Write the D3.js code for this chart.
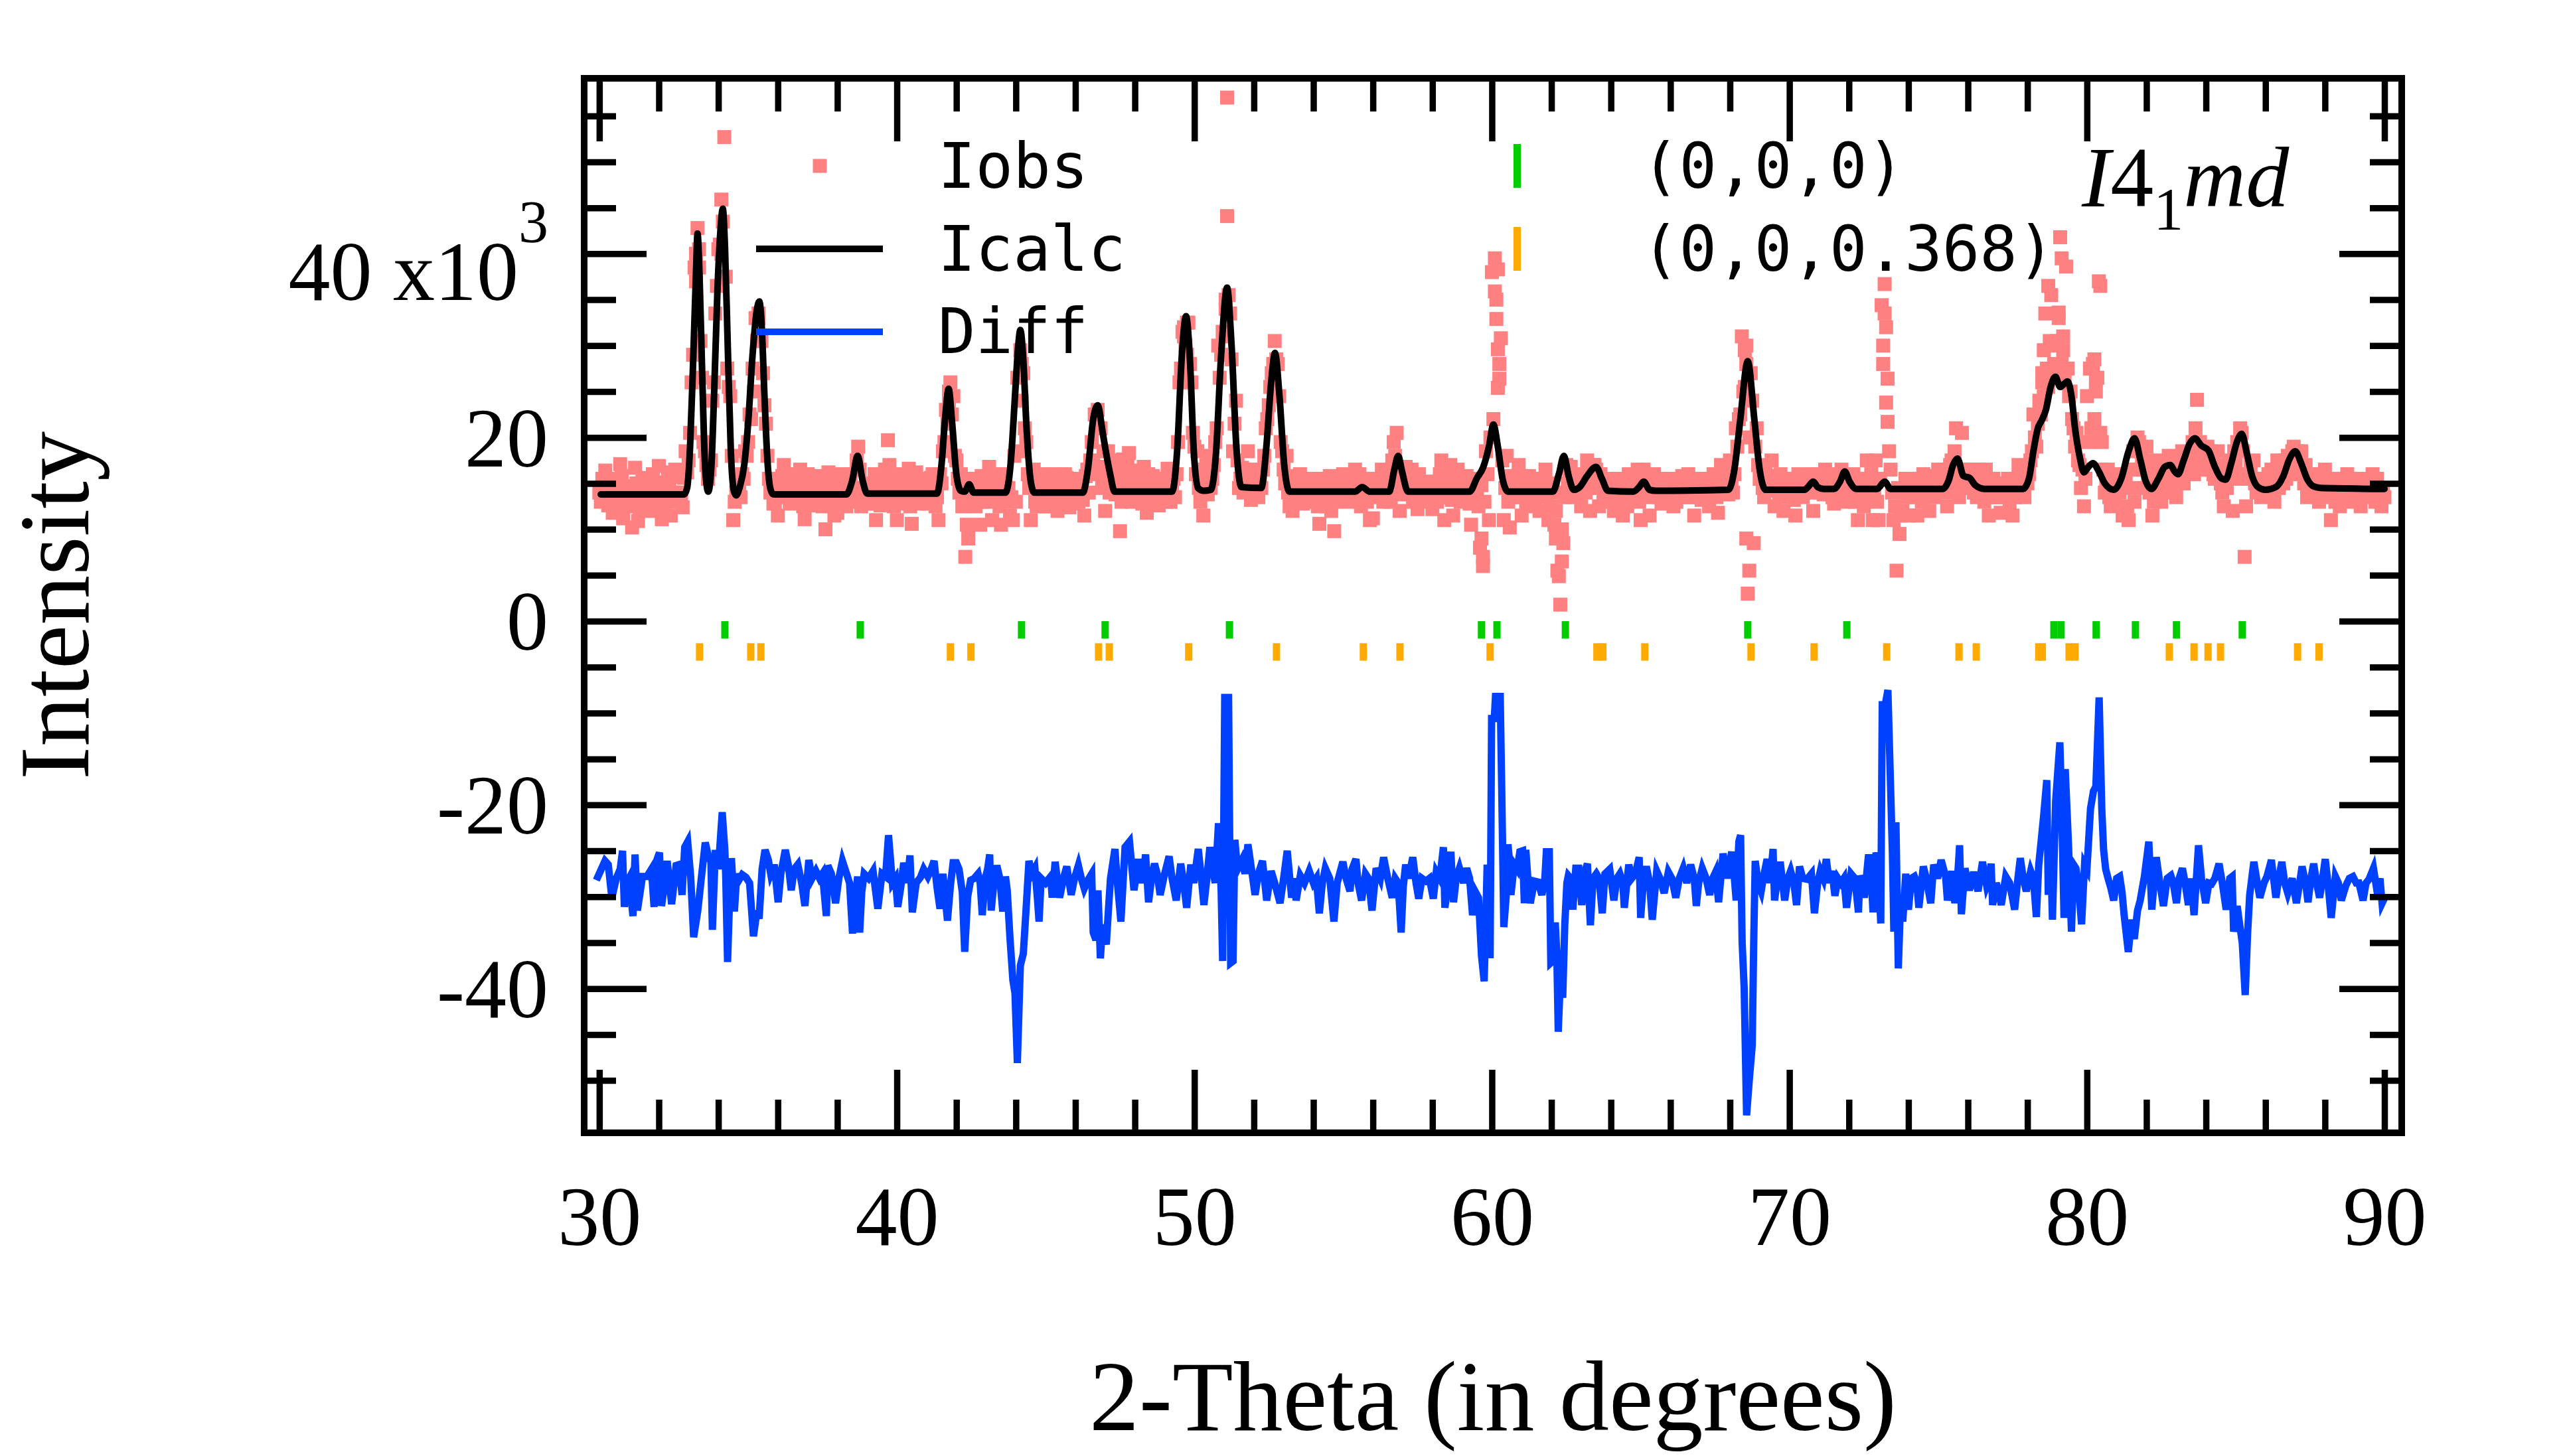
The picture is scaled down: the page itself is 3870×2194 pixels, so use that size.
<!DOCTYPE html>
<html><head><meta charset="utf-8">
<script src="https://cdn.jsdelivr.net/npm/d3@7/dist/d3.min.js"></script>
<style>html,body{margin:0;padding:0;background:#fff;} svg{display:block;}</style>
</head><body>
<svg id="chart" width="3870" height="2194"></svg>
<script>
// ---------------- DATA (intensities in units of 10^3 counts) ----------------
// observed profile, sampled on two interleaved 2theta grids
const obsStart = 30.0, obsStep = 0.1;
const obsCounts = [
14.0,15.5,16.4,12.6,13.0,14.2,14.5,17.1,11.2,13.5,
14.0,10.2,16.7,10.9,14.3,14.8,14.4,12.0,16.0,13.2,
16.9,11.1,13.5,16.2,11.5,14.0,15.7,15.8,12.4,18.5,
17.5,26.0,38.5,42.8,30.5,19.5,17.0,16.5,24.0,33.5,
40.5,45.9,52.7,27.5,24.5,11.0,14.0,14.5,16.0,18.5,
19.5,22.0,25.0,30.5,31.0,27.0,21.5,15.5,14.6,13.0,
11.5,14.6,17.0,15.5,12.8,14.5,15.8,15.2,13.0,11.1,
16.0,14.0,15.0,14.5,13.5,12.5,10.0,16.2,14.0,11.5,
11.8,16.0,14.5,12.5,15.0,13.0,14.0,19.0,12.5,14.5,
13.5,14.2,14.8,11.0,13.5,15.0,16.5,19.7,15.5,12.5,
11.0,14.5,16.0,14.8,16.6,10.6,13.5,14.5,14.0,13.2,
14.5,14.0,16.0,12.5,11.0,15.0,19.5,21.5,26.0,24.5,
17.5,14.0,12.5,7.0,9.0,14.5,14.0,14.8,10.5,13.0,
15.5,16.8,11.0,15.5,15.7,10.5,14.5,13.0,11.5,11.0,
13.0,18.5,24.0,21.0,16.0,11.0,16.5,12.5,15.0,14.0,
12.5,14.5,13.0,16.0,12.0,14.5,13.5,15.6,12.4,13.8,
15.5,13.0,14.5,11.5,16.5,17.5,17.0,22.5,16.0,14.5,
12.0,18.5,15.2,17.5,15.0,9.8,17.6,16.0,18.3,13.0,
15.0,16.4,14.0,16.8,11.8,13.5,15.8,14.0,12.6,13.5,
14.5,16.6,13.0,15.5,16.0,26.0,31.5,30.0,32.5,26.0,
19.0,18.5,13.0,11.5,17.0,18.0,15.5,19.5,30.0,29.0,
31.0,57.0,33.5,18.5,24.0,14.5,16.7,16.5,18.5,13.2,
14.0,15.5,16.0,16.5,21.0,23.5,27.0,30.5,28.0,19.5,
16.5,18.0,12.5,12.0,14.6,14.0,13.5,15.0,14.5,13.0,
14.0,13.0,10.6,13.5,15.5,14.0,12.0,9.8,13.5,15.5,
16.0,14.5,13.0,15.5,16.5,14.0,12.5,14.2,13.0,11.0,
11.2,15.5,14.8,16.5,16.0,13.5,13.0,19.5,20.5,12.0,
15.0,16.8,15.5,16.5,14.0,12.2,13.5,14.5,14.0,13.0,
12.2,15.0,13.5,17.5,11.0,14.5,17.0,11.5,14.5,15.5,
15.5,14.0,15.0,10.5,14.0,13.5,8.0,6.0,18.5,11.0,
38.0,39.5,38.3,30.8,11.0,18.0,10.2,15.5,13.5,17.0,
11.5,15.5,12.5,14.0,14.5,15.0,12.0,13.5,16.5,11.0,
12.5,10.5,5.5,1.8,8.5,17.0,15.5,13.5,15.5,16.0,
12.5,15.5,17.5,12.0,17.0,16.5,12.5,14.5,15.0,15.5,
14.5,12.0,15.0,14.5,11.5,13.5,16.0,14.5,13.5,16.5,
11.0,16.5,16.0,11.5,14.0,15.5,13.5,12.8,14.5,15.0,
14.0,12.5,13.0,15.0,15.8,14.5,16.0,15.5,11.5,13.5,
15.5,14.0,14.5,12.5,14.0,15.0,11.8,17.0,16.5,14.5,
17.5,14.0,21.0,22.0,31.0,29.5,3.0,27.0,8.5,21.0,
15.5,14.5,16.5,15.0,17.5,12.5,15.5,16.0,12.0,14.5,
15.5,14.0,11.5,16.0,15.0,14.0,14.5,16.0,12.0,14.0,
15.5,14.5,16.5,15.0,15.5,12.8,14.5,15.0,13.5,14.0,
15.5,14.5,13.0,11.0,15.0,12.5,17.5,15.0,11.0,17.5,
11.0,34.4,36.7,26.4,16.5,11.0,5.5,9.5,12.0,15.5,
11.5,14.5,15.0,11.5,14.0,16.0,14.5,12.0,15.5,14.5,
16.5,15.0,16.0,12.5,17.0,15.0,21.0,13.5,20.5,16.5,
14.5,16.5,14.0,13.5,16.5,14.0,16.5,11.5,13.5,14.5,
13.5,11.8,15.0,14.0,12.5,11.5,13.5,17.0,16.0,13.5,
15.0,17.5,22.5,19.0,24.0,26.0,33.5,25.5,35.5,28.0,
30.5,41.8,29.5,38.6,24.5,22.0,19.0,17.5,14.5,12.5,
24.5,27.5,28.0,25.0,37.0,19.5,14.0,16.5,12.5,14.5,
15.5,14.0,11.5,15.5,11.0,14.5,13.0,20.0,18.5,16.5,
19.0,14.0,11.5,17.5,15.5,13.0,15.0,16.5,17.0,14.0,
13.5,15.5,18.5,16.0,16.0,17.0,16.0,24.1,19.5,16.5,
16.5,18.5,17.5,15.5,18.5,15.0,12.5,14.5,17.5,12.0,
17.0,15.5,20.5,7.0,15.5,17.0,17.5,14.0,14.5,15.5,
14.5,16.0,16.5,13.0,17.5,17.0,15.0,15.5,17.0,18.5,
16.0,16.5,18.5,15.0,13.5,14.0,16.0,15.5,13.0,15.0,
16.5,14.0,11.0,15.0,13.5,12.5,14.5,13.0,15.5,15.0,
14.5,14.0,12.5,14.5,14.0,15.5,16.0,13.0,14.5,12.5,
13.5];
const obsStartB = 30.05;
const obsCountsB = [
13.0,14.8,15.2,13.8,11.8,15.5,13.2,15.8,12.6,14.7,
12.5,13.6,15.0,12.2,15.6,13.5,15.2,13.0,14.8,15.1,
13.4,12.5,14.6,15.0,13.0,16.5,14.0,13.2,15.6,16.2,
20.5,29.0,37.0,40.5,26.5,18.5,15.5,17.5,26.0,36.5,
41.0,43.5,37.5,25.5,18.0,13.0,15.0,13.5,15.5,18.0,
22.5,27.5,33.0,33.5,30.5,23.5,18.0,14.0,12.8,15.0,
13.5,15.8,13.6,14.2,16.0,13.0,14.0,16.5,12.5,14.8,
13.0,15.5,12.6,15.8,14.2,13.0,15.0,13.5,15.4,12.8,
14.5,13.0,15.5,13.8,16.0,14.0,17.5,16.5,14.5,12.8,
15.0,12.8,16.0,14.5,12.6,14.0,15.8,17.0,13.2,14.6,
15.2,12.8,14.0,15.5,12.5,15.0,16.2,12.8,15.5,14.5,
12.8,15.6,14.5,13.5,16.0,18.5,23.0,25.0,22.5,18.0,
15.5,16.0,14.0,10.5,13.0,15.5,12.5,13.8,15.8,14.0,
13.0,14.2,16.0,13.5,12.5,15.0,16.0,14.5,13.5,18.0,
26.5,29.5,27.0,19.5,14.5,15.5,13.0,14.8,13.5,16.0,
14.8,12.5,15.5,14.0,15.0,13.0,16.0,14.0,14.8,12.8,
14.2,15.0,13.2,15.8,14.0,19.5,22.5,23.0,21.0,18.5,
16.8,14.0,16.5,13.8,16.8,13.0,14.5,17.0,14.2,15.5,
13.5,15.2,12.8,14.5,16.0,14.2,13.0,15.5,14.8,15.5,
13.0,15.0,14.5,13.5,19.5,27.5,32.0,32.5,28.0,20.5,
16.0,14.5,15.5,16.5,13.8,14.5,17.0,21.0,26.5,31.5,
35.0,35.5,28.5,21.5,17.5,15.5,14.0,15.8,14.5,15.5,
16.5,13.5,14.5,18.0,22.0,25.5,28.0,28.5,24.5,18.5,
15.0,14.0,15.8,13.5,15.5,16.0,12.8,14.2,15.5,14.0,
15.5,12.5,14.5,15.0,12.5,15.8,14.0,13.0,14.8,13.5,
13.5,15.8,14.0,13.5,14.5,16.0,15.0,13.5,15.5,14.0,
13.5,14.0,15.5,13.0,14.8,15.5,17.5,18.0,16.5,14.5,
13.8,15.2,14.0,13.0,15.5,16.0,14.0,13.2,15.2,14.5,
14.5,13.0,16.0,14.0,13.5,15.8,13.2,14.5,16.5,13.0,
14.5,15.8,12.8,14.0,15.5,12.5,14.8,13.0,16.0,20.0,
22.0,35.0,28.0,17.5,14.5,13.0,15.8,14.0,14.8,13.5,
14.0,13.0,15.8,15.0,12.8,14.0,15.5,15.0,13.8,14.5,
15.0,12.0,14.0,10.0,13.5,15.0,16.8,14.5,13.8,14.0,
15.8,14.0,15.5,16.0,17.0,14.5,16.0,13.5,14.0,13.0,
15.5,14.0,13.0,15.5,14.8,12.5,15.0,15.5,14.0,13.0,
15.0,15.5,13.5,14.5,16.0,14.0,15.0,14.5,13.2,15.5,
15.0,13.5,14.8,14.0,13.5,15.5,13.5,14.5,15.0,14.8,
13.2,15.5,13.5,15.0,16.0,13.5,14.5,15.5,15.0,13.8,
15.5,16.0,19.0,22.5,25.0,28.0,20.0,24.0,19.0,17.0,
16.0,13.5,15.0,14.2,15.8,14.5,13.8,15.0,14.8,13.5,
14.5,13.2,15.0,14.5,13.5,15.8,15.2,14.5,15.0,16.0,
14.0,13.8,15.5,14.0,13.5,15.0,16.0,16.5,15.0,13.0,
14.2,16.0,14.0,13.5,14.5,15.5,13.5,16.0,14.0,13.0,
15.5,28.0,32.0,18.5,14.0,12.5,14.5,11.5,14.0,13.5,
13.5,15.0,14.2,15.5,13.0,15.0,14.0,15.8,13.5,15.0,
14.5,16.5,14.0,15.5,17.5,18.5,16.5,15.0,15.5,14.5,
15.8,14.5,15.5,16.0,15.0,13.0,15.2,14.5,15.5,13.5,
15.0,14.0,13.5,15.5,13.8,14.0,15.0,13.8,14.5,15.5,
16.0,18.5,20.0,21.5,22.5,24.5,27.5,30.5,27.0,27.5,
33.0,28.0,26.0,27.5,25.0,21.0,20.5,17.0,16.5,15.5,
19.5,21.0,22.0,26.5,20.5,16.5,15.0,13.5,15.5,13.0,
14.5,16.0,15.0,12.5,16.5,18.5,16.5,19.5,17.5,14.5,
15.5,16.5,13.0,15.0,14.0,17.0,15.5,18.0,15.5,15.0,
16.5,17.5,15.0,17.5,18.0,19.5,21.0,19.0,18.0,18.0,
19.0,16.5,16.0,17.0,16.0,14.0,15.0,16.0,16.5,18.5,
19.5,21.0,18.5,12.5,16.0,15.5,15.0,15.5,13.5,14.5,
15.5,14.0,15.0,16.0,14.5,16.0,17.5,18.0,17.5,19.0,
18.5,17.0,16.5,17.0,14.5,15.5,14.0,14.5,16.0,14.0,
13.5,15.5,14.5,13.0,15.5,14.0,15.5,16.0,14.0,13.5,
15.5,13.0,15.5,14.0,15.0,13.5,14.5,15.5,13.5,14.0];
// additional observed points stacked at peaks / outliers [2theta, I]
const obsExtra = [[33.25,40.0],[33.35,38.5],[34.1,40.0],[35.35,33.0],[41.75,24.0],[44.2,28.0],
[46.8,21.0],[49.65,31.0],[49.75,29.0],[51.1,44.1],[51.05,34.0],[52.75,28.0],[59.65,9.0],[59.7,7.0],
[60.1,35.9],[60.15,32.9],[60.2,29.6],[60.25,26.4],[60.2,25.4],[62.15,9.0],[62.25,4.9],[62.35,6.5],
[68.55,30.0],[68.5,25.5],[68.65,5.5],[68.55,9.0],[73.25,23.8],[73.3,21.7],[73.15,30.0],[73.2,33.5],
[78.9,30.0],[79.05,33.6],[79.15,39.5],[79.2,31.0],[78.55,29.5],[78.5,27.0],[78.7,36.5],[80.45,36.5],
[80.3,26.4],[80.25,28.5]];

const calcPoints = [[30.05,13.8],[32.85,13.8],[32.95,14.5],[33.05,19.0],[33.15,28.0],[33.25,38.0],[33.3,42.2],[33.36,38.5],[33.46,26.5],[33.56,16.5],[33.66,14.1],[33.76,16.5],[33.86,25.0],[33.97,36.0],[34.07,42.5],[34.15,44.9],[34.22,41.0],[34.32,29.5],[34.42,18.5],[34.52,14.2],[34.6,13.7],[34.72,14.6],[34.87,17.0],[35.0,21.5],[35.15,29.0],[35.3,34.0],[35.38,34.8],[35.46,32.0],[35.55,24.5],[35.65,17.5],[35.75,14.4],[35.85,13.8],[38.3,13.8],[38.5,15.3],[38.68,18.0],[38.85,15.3],[39.0,13.9],[41.35,13.9],[41.5,17.0],[41.62,22.0],[41.74,25.3],[41.86,21.5],[42.0,16.0],[42.15,14.2],[42.28,14.1],[42.43,14.9],[42.58,14.0],[43.65,14.0],[43.82,17.0],[43.98,25.0],[44.08,30.0],[44.15,31.7],[44.24,29.0],[44.36,21.0],[44.5,15.2],[44.62,14.0],[46.25,14.0],[46.42,16.5],[46.6,22.0],[46.75,23.5],[46.92,20.5],[47.05,18.0],[47.17,16.0],[47.32,14.1],[49.25,14.1],[49.42,18.5],[49.58,29.0],[49.72,33.2],[49.85,28.5],[49.98,18.5],[50.12,14.5],[50.3,14.2],[50.55,14.3],[50.72,18.0],[50.9,29.0],[51.1,36.3],[51.25,30.0],[51.42,18.5],[51.58,14.6],[52.25,14.5],[52.42,19.0],[52.58,26.0],[52.71,29.2],[52.86,24.5],[53.02,17.0],[53.2,14.1],[55.4,14.1],[55.64,14.6],[55.9,14.1],[56.55,14.1],[56.72,16.5],[56.85,18.0],[56.98,16.3],[57.18,14.1],[59.25,14.1],[59.5,15.6],[59.7,16.7],[59.9,19.0],[60.05,21.4],[60.2,19.0],[60.37,15.3],[60.55,14.1],[62.05,14.1],[62.25,16.0],[62.42,18.0],[62.58,15.8],[62.75,14.3],[62.95,14.6],[63.2,15.8],[63.5,16.8],[63.7,15.5],[63.9,14.2],[64.75,14.1],[64.95,14.6],[65.1,15.2],[65.3,14.3],[65.5,14.2],[67.95,14.3],[68.15,16.5],[68.35,22.0],[68.6,28.3],[68.82,22.0],[69.0,16.5],[69.2,14.3],[70.5,14.3],[70.65,14.7],[70.8,15.2],[70.95,14.6],[71.15,14.4],[71.5,14.4],[71.7,15.2],[71.86,16.3],[72.02,15.2],[72.25,14.4],[72.95,14.4],[73.2,15.2],[73.4,14.4],[75.15,14.4],[75.35,15.3],[75.5,17.0],[75.65,17.7],[75.85,15.8],[76.05,15.6],[76.25,14.8],[76.55,14.4],[77.85,14.4],[78.05,15.5],[78.2,18.5],[78.35,21.0],[78.47,21.8],[78.62,23.0],[78.78,25.5],[78.94,26.6],[79.1,25.5],[79.22,25.8],[79.35,26.1],[79.48,24.5],[79.6,21.0],[79.75,18.0],[79.9,16.2],[80.05,16.8],[80.2,17.2],[80.4,16.3],[80.6,15.0],[80.9,14.3],[81.15,15.5],[81.4,18.5],[81.6,19.9],[81.8,17.5],[81.98,15.2],[82.17,14.4],[82.4,15.5],[82.62,16.8],[82.8,17.0],[82.95,16.3],[83.06,16.0],[83.25,17.5],[83.45,19.3],[83.63,19.9],[83.85,19.1],[84.08,18.6],[84.3,16.8],[84.5,15.6],[84.66,15.4],[84.85,17.2],[85.05,19.6],[85.2,20.4],[85.38,18.2],[85.55,15.8],[85.75,14.6],[86.0,14.3],[86.35,14.6],[86.6,15.8],[86.8,17.6],[87.0,18.5],[87.2,17.2],[87.4,15.5],[87.6,14.7],[87.85,14.5],[90.0,14.4]];

const diffPoints = [[29.9,-28.2],[30.19,-26.1],[30.3,-26.5],[30.42,-30.1],[30.57,-28.0],[30.7,-27.0],[30.78,-25.0],[30.84,-31.1],[30.92,-28.5],[31.0,-28.0],[31.13,-32.1],[31.2,-25.4],[31.28,-31.5],[31.45,-27.8],[31.6,-27.8],[31.75,-27.0],[31.84,-31.1],[31.9,-26.3],[32.02,-25.2],[32.09,-31.0],[32.2,-28.5],[32.28,-26.1],[32.43,-30.8],[32.58,-26.6],[32.68,-26.5],[32.78,-29.8],[32.87,-24.6],[32.97,-24.0],[33.07,-27.8],[33.17,-34.4],[33.31,-31.5],[33.41,-28.5],[33.56,-24.1],[33.66,-25.5],[33.75,-26.2],[33.8,-33.6],[33.9,-24.9],[34.0,-27.0],[34.13,-20.8],[34.22,-25.0],[34.25,-28.0],[34.31,-37.1],[34.38,-30.0],[34.44,-25.8],[34.54,-31.6],[34.62,-27.5],[34.69,-28.2],[34.8,-27.6],[34.93,-27.9],[35.05,-28.5],[35.18,-34.3],[35.3,-31.5],[35.37,-32.4],[35.47,-27.0],[35.57,-24.9],[35.68,-26.0],[35.76,-27.5],[35.88,-26.5],[36.01,-30.6],[36.1,-27.5],[36.25,-24.9],[36.35,-26.5],[36.45,-29.3],[36.55,-27.0],[36.67,-26.5],[36.8,-28.5],[36.91,-31.0],[37.04,-26.0],[37.15,-28.0],[37.28,-27.2],[37.4,-28.0],[37.5,-27.5],[37.63,-32.1],[37.68,-26.6],[37.8,-27.5],[37.94,-30.7],[38.05,-28.0],[38.17,-26.1],[38.31,-27.5],[38.41,-28.5],[38.51,-34.0],[38.6,-30.5],[38.68,-27.8],[38.75,-33.9],[38.82,-29.5],[38.9,-27.5],[39.05,-28.0],[39.2,-27.2],[39.36,-31.3],[39.5,-27.5],[39.62,-27.8],[39.72,-23.3],[39.85,-28.5],[39.95,-28.0],[40.03,-31.1],[40.13,-29.0],[40.23,-26.3],[40.35,-28.5],[40.44,-25.5],[40.52,-31.7],[40.65,-28.5],[40.79,-27.9],[40.9,-27.0],[41.04,-27.8],[41.15,-27.0],[41.25,-26.1],[41.35,-29.0],[41.45,-31.3],[41.55,-27.5],[41.7,-32.6],[41.8,-28.8],[41.89,-26.3],[42.0,-26.3],[42.09,-27.0],[42.2,-29.5],[42.28,-36.0],[42.38,-30.0],[42.48,-28.2],[42.6,-28.0],[42.73,-27.5],[42.8,-28.5],[42.87,-32.0],[42.97,-28.0],[43.05,-27.0],[43.12,-25.4],[43.17,-31.5],[43.26,-28.5],[43.36,-26.6],[43.46,-28.0],[43.56,-31.6],[43.65,-27.8],[43.71,-29.3],[43.8,-34.4],[43.9,-39.1],[43.97,-40.5],[44.05,-48.1],[44.15,-37.5],[44.25,-36.2],[44.35,-31.0],[44.44,-26.1],[44.54,-27.5],[44.64,-26.9],[44.72,-30.0],[44.78,-32.7],[44.85,-28.0],[45.0,-28.5],[45.17,-27.8],[45.22,-30.1],[45.32,-26.2],[45.47,-30.1],[45.6,-28.0],[45.71,-26.7],[45.86,-29.8],[45.97,-28.0],[46.1,-26.6],[46.2,-28.0],[46.3,-29.1],[46.42,-28.2],[46.55,-27.5],[46.6,-33.9],[46.69,-34.7],[46.76,-29.3],[46.84,-36.7],[46.92,-33.0],[47.04,-35.2],[47.1,-32.0],[47.18,-28.0],[47.33,-24.8],[47.4,-28.0],[47.53,-32.7],[47.67,-24.6],[47.82,-24.0],[47.97,-29.3],[48.05,-27.5],[48.12,-25.9],[48.25,-28.5],[48.36,-25.4],[48.46,-30.6],[48.56,-28.0],[48.66,-26.4],[48.75,-27.5],[48.85,-29.8],[49.0,-27.5],[49.15,-25.6],[49.25,-28.0],[49.39,-30.4],[49.54,-26.4],[49.63,-28.2],[49.74,-31.2],[49.88,-26.5],[49.98,-28.5],[50.13,-24.8],[50.22,-27.5],[50.32,-30.9],[50.42,-28.0],[50.52,-24.6],[50.62,-27.0],[50.7,-28.5],[50.81,-22.0],[50.9,-29.4],[50.95,-37.0],[51.02,-8.3],[51.15,-8.3],[51.22,-37.2],[51.3,-37.0],[51.36,-23.8],[51.45,-27.0],[51.6,-26.0],[51.7,-27.5],[51.8,-24.3],[51.92,-27.0],[52.04,-29.8],[52.15,-27.5],[52.29,-26.1],[52.43,-30.4],[52.58,-27.2],[52.7,-28.5],[52.88,-30.7],[53.0,-28.0],[53.12,-25.0],[53.27,-30.1],[53.35,-28.0],[53.42,-30.4],[53.56,-27.7],[53.7,-28.5],[53.86,-27.2],[54.0,-28.5],[54.1,-28.0],[54.2,-31.8],[54.3,-28.5],[54.4,-26.9],[54.55,-28.0],[54.69,-32.7],[54.8,-28.5],[54.99,-26.2],[55.1,-28.0],[55.23,-29.4],[55.3,-27.0],[55.43,-25.9],[55.5,-28.5],[55.62,-30.4],[55.75,-27.5],[55.85,-28.0],[55.97,-31.5],[56.11,-26.9],[56.25,-28.0],[56.36,-25.7],[56.5,-28.0],[56.65,-30.1],[56.75,-28.0],[56.85,-28.5],[56.95,-33.9],[57.02,-29.0],[57.1,-26.5],[57.2,-28.0],[57.34,-25.7],[57.45,-28.5],[57.54,-30.2],[57.65,-28.0],[57.78,-28.3],[57.9,-28.0],[58.03,-30.2],[58.13,-27.3],[58.25,-28.0],[58.37,-24.6],[58.42,-31.2],[58.55,-28.0],[58.62,-25.1],[58.71,-30.6],[58.8,-28.0],[58.91,-26.9],[59.05,-28.5],[59.15,-26.9],[59.25,-28.0],[59.35,-32.0],[59.45,-29.5],[59.55,-30.1],[59.65,-36.4],[59.74,-39.2],[59.8,-32.0],[59.84,-26.5],[59.9,-30.0],[59.94,-36.7],[59.99,-10.6],[60.08,-10.6],[60.12,-8.2],[60.28,-8.2],[60.33,-18.2],[60.4,-33.3],[60.48,-30.0],[60.54,-24.3],[60.6,-26.4],[60.64,-29.8],[60.75,-26.5],[60.85,-27.0],[60.94,-25.1],[61.03,-25.0],[61.09,-30.7],[61.14,-24.9],[61.22,-28.5],[61.29,-30.7],[61.43,-28.3],[61.55,-28.4],[61.68,-29.8],[61.78,-28.0],[61.83,-25.1],[61.93,-25.1],[61.98,-37.2],[62.05,-37.0],[62.13,-32.8],[62.18,-36.0],[62.23,-44.7],[62.3,-39.0],[62.32,-36.7],[62.38,-41.0],[62.45,-33.0],[62.52,-28.5],[62.57,-27.7],[62.65,-28.0],[62.72,-31.4],[62.82,-26.9],[62.92,-26.9],[63.02,-30.9],[63.1,-27.5],[63.21,-26.4],[63.31,-33.1],[63.4,-28.0],[63.51,-27.5],[63.6,-28.0],[63.71,-31.8],[63.8,-27.5],[63.96,-27.0],[64.1,-30.4],[64.2,-28.0],[64.3,-27.5],[64.4,-28.5],[64.45,-31.2],[64.6,-26.5],[64.7,-28.0],[64.82,-27.5],[64.95,-25.7],[65.0,-32.3],[65.1,-28.0],[65.19,-26.7],[65.3,-28.5],[65.39,-32.5],[65.54,-27.2],[65.65,-28.0],[65.79,-29.6],[65.93,-27.3],[66.05,-28.0],[66.18,-30.1],[66.3,-28.0],[66.43,-26.9],[66.55,-28.5],[66.68,-26.5],[66.8,-28.0],[66.87,-31.0],[66.95,-28.5],[67.07,-26.9],[67.2,-28.0],[67.32,-29.8],[67.42,-28.0],[67.52,-27.3],[67.62,-30.6],[67.77,-25.3],[67.9,-28.0],[68.06,-25.1],[68.15,-28.0],[68.21,-30.4],[68.3,-24.0],[68.36,-23.3],[68.41,-34.9],[68.48,-40.0],[68.56,-53.8],[68.65,-50.0],[68.75,-46.2],[68.8,-35.0],[68.85,-26.1],[68.95,-28.5],[69.05,-29.4],[69.15,-27.5],[69.25,-25.9],[69.35,-28.5],[69.45,-24.8],[69.5,-30.4],[69.6,-28.0],[69.69,-26.2],[69.84,-30.4],[69.95,-28.0],[70.04,-27.2],[70.15,-28.5],[70.24,-30.9],[70.34,-26.7],[70.45,-28.0],[70.59,-28.1],[70.74,-27.5],[70.84,-31.8],[70.95,-28.5],[71.04,-27.2],[71.14,-28.0],[71.24,-25.9],[71.34,-28.5],[71.43,-27.2],[71.53,-29.9],[71.63,-28.0],[71.73,-28.5],[71.83,-28.0],[71.92,-31.2],[72.07,-27.5],[72.2,-28.0],[72.32,-31.7],[72.37,-27.7],[72.45,-28.5],[72.52,-30.1],[72.66,-25.4],[72.75,-28.0],[72.81,-31.7],[72.91,-25.2],[72.98,-26.0],[73.07,-32.9],[73.12,-9.1],[73.22,-9.1],[73.31,-7.5],[73.4,-18.0],[73.46,-25.1],[73.51,-33.8],[73.58,-21.9],[73.66,-37.8],[73.74,-30.0],[73.81,-32.7],[73.91,-27.5],[74.0,-31.4],[74.1,-28.0],[74.2,-27.8],[74.28,-28.5],[74.35,-31.2],[74.5,-26.7],[74.6,-28.0],[74.75,-30.7],[74.85,-26.5],[74.98,-28.0],[75.1,-26.0],[75.25,-27.8],[75.31,-30.4],[75.46,-27.2],[75.56,-30.7],[75.65,-28.0],[75.72,-24.4],[75.78,-31.9],[75.9,-26.9],[76.05,-29.3],[76.19,-27.3],[76.34,-29.4],[76.49,-26.2],[76.63,-28.8],[76.72,-28.0],[76.78,-26.4],[76.83,-30.9],[76.95,-28.5],[77.03,-29.4],[77.12,-30.9],[77.27,-27.8],[77.4,-28.5],[77.57,-31.4],[77.68,-28.0],[77.76,-25.8],[77.86,-28.0],[77.96,-29.4],[78.11,-27.2],[78.2,-28.0],[78.3,-32.2],[78.38,-26.5],[78.45,-24.3],[78.55,-21.0],[78.65,-17.3],[78.7,-29.8],[78.78,-25.0],[78.84,-32.5],[78.95,-19.5],[79.09,-13.2],[79.15,-20.0],[79.23,-32.3],[79.27,-16.1],[79.38,-24.3],[79.48,-33.8],[79.55,-26.5],[79.63,-26.9],[79.72,-29.0],[79.82,-33.0],[79.92,-26.5],[80.0,-27.0],[80.12,-20.4],[80.22,-18.5],[80.3,-18.0],[80.41,-8.3],[80.5,-20.5],[80.56,-24.9],[80.63,-27.0],[80.71,-28.0],[80.8,-29.0],[80.9,-30.4],[81.0,-28.0],[81.1,-27.8],[81.18,-29.5],[81.25,-32.0],[81.39,-36.0],[81.5,-32.5],[81.59,-34.6],[81.7,-31.5],[81.79,-30.4],[81.93,-27.8],[82.08,-24.0],[82.18,-31.4],[82.33,-25.7],[82.45,-28.5],[82.57,-31.0],[82.7,-28.0],[82.82,-27.7],[82.9,-28.5],[83.01,-30.7],[83.1,-28.0],[83.21,-26.9],[83.3,-28.5],[83.41,-30.9],[83.5,-28.0],[83.6,-32.0],[83.75,-24.4],[83.85,-28.0],[83.99,-30.7],[84.1,-28.5],[84.19,-28.6],[84.3,-28.0],[84.44,-26.4],[84.55,-28.5],[84.68,-31.4],[84.8,-28.0],[84.88,-27.8],[84.93,-33.8],[85.05,-31.0],[85.12,-32.7],[85.22,-35.0],[85.32,-40.7],[85.4,-34.0],[85.47,-29.8],[85.61,-26.2],[85.7,-28.0],[85.81,-30.1],[85.95,-28.5],[86.05,-27.8],[86.2,-26.0],[86.35,-30.1],[86.45,-28.0],[86.55,-26.2],[86.65,-28.5],[86.75,-29.6],[86.9,-28.0],[87.04,-30.7],[87.15,-28.5],[87.23,-26.7],[87.35,-28.5],[87.43,-30.6],[87.53,-28.0],[87.62,-26.4],[87.72,-28.5],[87.82,-30.1],[87.92,-28.0],[88.01,-25.9],[88.1,-28.5],[88.21,-32.3],[88.35,-27.8],[88.45,-28.5],[88.55,-30.4],[88.7,-28.8],[88.82,-28.0],[88.94,-27.8],[89.05,-28.5],[89.14,-28.5],[89.28,-30.4],[89.38,-28.5],[89.48,-28.1],[89.63,-26.9],[89.77,-29.8],[89.85,-28.0],[89.92,-30.7],[90.05,-29.8]];

// Bragg reflection positions (2theta) for the two propagation vectors
const phaseA = [34.22,38.77,44.19,47.0,51.18,59.65,60.17,62.47,68.6,71.93,78.89,79.13,80.31,81.63,83.01,85.22];
const phaseB = [33.37,35.09,35.43,41.8,42.49,46.78,47.14,49.81,52.76,55.68,56.91,59.94,63.53,63.73,65.14,68.71,70.83,73.27,75.7,76.28,78.38,78.5,79.4,79.6,82.77,83.6,84.07,84.49,87.08,87.8];

const xMajorTicks = [30,40,50,60,70,80,90];
const yMajorTicks = [-40,-20,0,20,40];
const legendLabels = ["Iobs","Icalc","Diff"];
const phaseLabels = ["(0,0,0)","(0,0,0.368)"];
const xTitle = "2-Theta (in degrees)";
const yTitle = "Intensity";

// ---------------- DRAWING ----------------
const svg = d3.select("#chart");
const L = 880, R = 3618, T = 118, B = 1707;
const x = d3.scaleLinear().domain([29.49, 90.58]).range([L, R]);
const y = d3.scaleLinear().domain([-55.7, 59.1]).range([B, T]);

const serif = "'Liberation Serif','Times New Roman',Times,serif";
const mono = "'DejaVu Sans Mono',monospace";
const cObs = "#ff8080", cCalc = "#000000", cDiff = "#0040ff", cA = "#00cc00", cB = "#ffaa00";

svg.append("rect").attr("width",3870).attr("height",2194).attr("fill","#fff");

const plot = svg.append("g");
// observed points
const obs = obsCounts.map((v,i)=>[obsStart + i*obsStep, v])
  .concat(obsCountsB.map((v,i)=>[obsStartB + i*obsStep, v]))
  .concat(obsExtra);
const sq = 21;
plot.append("g").selectAll("rect").data(obs).join("rect")
  .attr("x", d=>x(d[0])-sq/2).attr("y", d=>y(d[1])-sq/2)
  .attr("width", sq).attr("height", sq).attr("fill", cObs);

// calculated line
plot.append("path").datum(calcPoints)
  .attr("d", d3.line().x(d=>x(d[0])).y(d=>y(d[1])).curve(d3.curveMonotoneX))
  .attr("fill","none").attr("stroke",cCalc).attr("stroke-width",10)
  .attr("stroke-linejoin","round").attr("stroke-linecap","round");

// phase markers
plot.append("g").selectAll("rect").data(phaseA).join("rect")
  .attr("x", d=>x(d)-5.5).attr("width",11)
  .attr("y", y(0)).attr("height", y(-1.9)-y(0)).attr("fill", cA);
plot.append("g").selectAll("rect").data(phaseB).join("rect")
  .attr("x", d=>x(d)-5.5).attr("width",11)
  .attr("y", y(-2.4)).attr("height", y(-4.3)-y(-2.4)).attr("fill", cB);

// difference line
plot.append("path").datum(diffPoints)
  .attr("d", d3.line().x(d=>x(d[0])).y(d=>y(d[1])))
  .attr("fill","none").attr("stroke",cDiff).attr("stroke-width",11);

// ---------------- AXES ----------------
const tickW = 9.5;
const xMinor = d3.range(30, 91, 2).filter(v=>v%10!==0);
const yMinor = d3.range(-50, 56, 5).filter(v=>v%20!==0);

function styleAxis(g){
  g.select(".domain").remove();
  g.selectAll(".tick line").attr("stroke","#000").attr("stroke-width",tickW);
}
// bottom
svg.append("g").attr("transform",`translate(0,${B})`)
  .call(d3.axisBottom(x).tickValues(xMajorTicks).tickSize(-95).tickFormat(d=>String(d)))
  .call(styleAxis)
  .call(g=>g.selectAll(".tick text").attr("y",169).attr("dy",0)
    .attr("font-family",serif).attr("font-size",126).attr("fill","#000"));
svg.append("g").attr("transform",`translate(0,${B})`)
  .call(d3.axisBottom(x).tickValues(xMinor).tickSize(-50).tickFormat(""))
  .call(styleAxis);
// top
svg.append("g").attr("transform",`translate(0,${T})`)
  .call(d3.axisTop(x).tickValues(xMajorTicks).tickSize(-95).tickFormat(""))
  .call(styleAxis);
svg.append("g").attr("transform",`translate(0,${T})`)
  .call(d3.axisTop(x).tickValues(xMinor).tickSize(-50).tickFormat(""))
  .call(styleAxis);
// left
svg.append("g").attr("transform",`translate(${L},0)`)
  .call(d3.axisLeft(y).tickValues(yMajorTicks).tickSize(-94).tickPadding(54).tickFormat(d=>String(d)))
  .call(styleAxis)
  .call(g=>g.selectAll(".tick text").attr("font-family",serif).attr("font-size",126)
    .attr("fill","#000").attr("dy","0.34em")
    .each(function(d){
      if(d===40){
        const t = d3.select(this).text("").attr("dy","0.55em");
        t.append("tspan").text("40 x10");
        t.append("tspan").text("3").attr("font-size",90).attr("dy",-87);
      }
    }));
svg.append("g").attr("transform",`translate(${L},0)`)
  .call(d3.axisLeft(y).tickValues(yMinor).tickSize(-48).tickFormat(""))
  .call(styleAxis);
// right
svg.append("g").attr("transform",`translate(${R},0)`)
  .call(d3.axisRight(y).tickValues(yMajorTicks).tickSize(-94).tickFormat(""))
  .call(styleAxis);
svg.append("g").attr("transform",`translate(${R},0)`)
  .call(d3.axisRight(y).tickValues(yMinor).tickSize(-48).tickFormat(""))
  .call(styleAxis);

// frame
svg.append("rect").attr("x",L).attr("y",T).attr("width",R-L).attr("height",B-T)
  .attr("fill","none").attr("stroke","#000").attr("stroke-width",10);

// titles
svg.append("text").attr("x",(L+R)/2).attr("y",2155).attr("text-anchor","middle")
  .attr("font-family",serif).attr("font-size",150).attr("fill","#000").text(xTitle);
svg.append("text").attr("transform",`translate(133,${(T+B)/2}) rotate(-90)`)
  .attr("text-anchor","middle").attr("font-family",serif).attr("font-size",150)
  .attr("fill","#000").text(yTitle);

// space group label
const sg = svg.append("text").attr("x",3136).attr("y",311).attr("font-family",serif)
  .attr("font-size",130).attr("fill","#000");
sg.append("tspan").attr("font-style","italic").text("I");
sg.append("tspan").text("4");
sg.append("tspan").attr("font-size",90).attr("dy",35).text("1");
sg.append("tspan").attr("font-style","italic").attr("dy",-35).text("md");

// legend (left)
const lg = svg.append("g");
const rowY = [283, 408, 532];
lg.append("rect").attr("x",1235-sq/2).attr("y",250-sq/2).attr("width",sq).attr("height",sq).attr("fill",cObs);
lg.append("line").attr("x1",1139).attr("x2",1330).attr("y1",375).attr("y2",375)
  .attr("stroke",cCalc).attr("stroke-width",10);
lg.append("line").attr("x1",1139).attr("x2",1330).attr("y1",500).attr("y2",500)
  .attr("stroke",cDiff).attr("stroke-width",10);
lg.selectAll("text").data(legendLabels).join("text")
  .attr("x",1413).attr("y",(d,i)=>rowY[i]).attr("font-family",mono).attr("font-size",94)
  .attr("fill","#000").text(d=>d);

// legend (right, propagation vectors)
const pg = svg.append("g");
pg.append("rect").attr("x",2280).attr("y",217).attr("width",11).attr("height",66).attr("fill",cA);
pg.append("rect").attr("x",2280).attr("y",342).attr("width",11).attr("height",66).attr("fill",cB);
pg.selectAll("text").data(phaseLabels).join("text")
  .attr("x",2473).attr("y",(d,i)=>rowY[i]).attr("font-family",mono).attr("font-size",94)
  .attr("fill","#000").text(d=>d);
</script>
</body></html>
